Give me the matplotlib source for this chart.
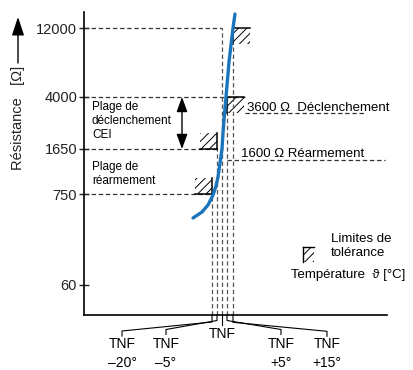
import matplotlib.pyplot as plt
from matplotlib.patches import Rectangle

plt.rcParams['font.family'] = ['Liberation Sans', 'DejaVu Sans']
plt.rcParams['hatch.linewidth'] = 0.7

# resistance levels (schematic scale, positions)
res_labels = ['60', '750', '1650', '4000', '12000']
res_pos = [30, 121, 166, 218, 287]

# TNF temperature lines
tnf_labels = ['TNF\n\u201320\u00b0', 'TNF\n\u20135\u00b0', 'TNF', 'TNF\n+5\u00b0', 'TNF\n+15\u00b0']
tnf_x = [128, 133, 138, 143, 149]
tnf_top = [121, 166, 287, 218, 271]
label_x = [38, 82, 138, 197, 243]

# PTC characteristic curve
curve_x = [109, 118, 124, 129, 132, 134, 136, 138, 139, 140, 142, 145, 149, 151]
curve_y = [97, 103, 110, 120, 129, 138, 152, 166, 182, 195, 218, 253, 287, 301]

# tolerance boxes: (level, tnf line, corner)
boxes = [(287, 149, 'ul'), (218, 143, 'ul'), (166, 133, 'lr'), (121, 128, 'lr')]

dash = dict(color='#333333', lw=0.9, dashes=(3.5, 2.2))

fig = plt.figure(figsize=(4.14, 3.70), dpi=100)
ax = fig.add_axes([84 / 414, 55 / 370, 303 / 414, 303 / 370])
ax.set_xlim(0, 303)
ax.set_ylim(0, 303)
for s in ['top', 'right']:
    ax.spines[s].set_visible(False)
for s in ['left', 'bottom']:
    ax.spines[s].set_linewidth(1.2)
ax.set_xticks([])
ax.set_yticks(res_pos, res_labels)
ax.tick_params(axis='y', direction='inout', length=7, width=1, pad=1.5,
               labelsize=10.5, colors='#222222')

# horizontal dashed lines from the axis
h_end = [None, 128, 133, 161, 138]
for p, e in zip(res_pos, h_end):
    if e is not None:
        ax.plot([0, e], [p, p], **dash)

# vertical dashed TNF lines
for x, t in zip(tnf_x, tnf_top):
    ax.plot([x, x], [0, t], color='#555555', lw=0.9, dashes=(3.5, 2.2))

# hatched tolerance boxes
w, h = 17, 16
for lvl, x, corner in boxes:
    if corner == 'ul':
        x0, y0 = x, lvl - h
        ax.plot([x, x + w], [lvl, lvl], color='k', lw=1.1)
        ax.plot([x, x], [lvl, lvl - h], color='k', lw=1.1)
    else:
        x0, y0 = x - w, lvl
        ax.plot([x - w, x], [lvl, lvl], color='k', lw=1.1)
        ax.plot([x, x], [lvl, lvl + h], color='k', lw=1.1)
    ax.add_patch(Rectangle((x0, y0), w, h, fill=False, hatch='////',
                           edgecolor='k', lw=0))

# curve
ax.plot(curve_x, curve_y, color='#1a75bc', lw=2.4, solid_capstyle='round')

# threshold annotations
ax.plot([161, 281], [202, 202], **dash)
ax.text(163, 204, '3600 \u03a9  D\u00e9clenchement', fontsize=9.5, va='baseline')
ax.plot([143, 301], [155, 155], **dash)
ax.text(157, 158, '1600 \u03a9 R\u00e9armement', fontsize=9.5, va='baseline')

# ranges
ax.text(8, 214, 'Plage de\nd\u00e9clenchement\nCEI', fontsize=8.5, va='top',
        linespacing=1.25)
ax.text(8, 154, 'Plage de\nr\u00e9armement', fontsize=8.5, va='top',
        linespacing=1.25)
ax.annotate('', xy=(98, 218), xytext=(98, 166),
            arrowprops=dict(arrowstyle='<|-|>,head_length=0.6,head_width=0.22',
                            color='k', lw=1, mutation_scale=15,
                            shrinkA=0, shrinkB=0))

# y label with arrow
ax.text(-66, 197, 'R\u00e9sistance   [\u03a9]', rotation=90, fontsize=10.5,
        ha='center', va='center', color='#222222')
ax.annotate('', xy=(-66, 298), xytext=(-66, 252),
            arrowprops=dict(arrowstyle='-|>,head_length=0.75,head_width=0.25',
                            color='k', lw=1, mutation_scale=15,
                            shrinkA=0, shrinkB=0), annotation_clip=False)

# legend
ax.add_patch(Rectangle((219, 53), 11, 15, fill=False, hatch='////',
                       edgecolor='k', lw=0))
ax.plot([219, 230], [68, 68], color='k', lw=1)
ax.plot([219, 219], [53, 68], color='k', lw=1)
ax.text(247, 69, 'Limites de\ntol\u00e9rance', fontsize=9.5, va='center',
        linespacing=1.3)
ax.text(207, 40, 'Temp\u00e9rature  \u03d1 [\u00b0C]', fontsize=9.5, va='center',
        clip_on=False)

# TNF leaders and labels
for x, lx, lab in zip(tnf_x, label_x, tnf_labels):
    if lab == 'TNF':
        ax.plot([x, x], [0, -10], color='k', lw=0.8, clip_on=False)
        ax.text(lx, -12, lab, fontsize=10, ha='center', va='top')
        continue
    drop = 4 + abs(x - 138) * 0.3
    ax.plot([x, x, lx, lx], [0, -drop, -drop - 9, -drop - 14],
            color='k', lw=0.8, clip_on=False)
    ax.text(lx, -22, lab, fontsize=10, ha='center', va='top',
            linespacing=1.45)

fig.savefig('out.png', dpi=100)
